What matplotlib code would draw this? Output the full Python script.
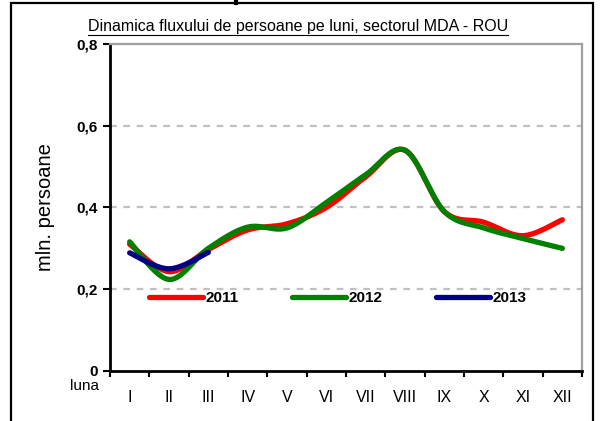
#!/usr/bin/env python3
# monthly passenger flow, MDA - ROU, smoothed lines like the Excel original
import numpy as np
import matplotlib
matplotlib.use('Agg')
import matplotlib.pyplot as plt
from matplotlib.lines import Line2D
from matplotlib.patches import Rectangle

plt.rcParams['font.family'] = ['Liberation Sans', 'DejaVu Sans']

# DATA
months = ['I', 'II', 'III', 'IV', 'V', 'VI', 'VII', 'VIII', 'IX', 'X', 'XI', 'XII']
flow_2011 = [0.31, 0.243, 0.297, 0.345, 0.36, 0.40, 0.475, 0.54, 0.39, 0.364, 0.331, 0.37]
flow_2012 = [0.316, 0.224, 0.30, 0.352, 0.35, 0.412, 0.48, 0.54, 0.39, 0.35, 0.324, 0.30]
flow_2013 = [0.289, 0.25, 0.29]
yticks = [0, 0.2, 0.4, 0.6, 0.8]
ytick_labels = ['0', '0,2', '0,4', '0,6', '0,8']
series = [('2011', flow_2011, '#ff0000'),
          ('2012', flow_2012, '#008000'),
          ('2013', flow_2013, '#000080')]


def smooth(y, n=30):
    """
        Catmull-Rom curve through the points (what Excel calls smoothed line)
    """
    y = np.asarray(y, dtype=float)
    x = np.arange(len(y), dtype=float)
    px = np.concatenate([[x[0]], x, [x[-1]]])
    py = np.concatenate([[y[0]], y, [y[-1]]])
    xs, ys = [], []
    t = np.linspace(0, 1, n)
    for i in range(1, len(px) - 2):
        for p, out in ((px, xs), (py, ys)):
            p0, p1, p2, p3 = p[i - 1], p[i], p[i + 1], p[i + 2]
            out.extend(0.5 * (2 * p1 + (-p0 + p2) * t
                              + (2 * p0 - 5 * p1 + 4 * p2 - p3) * t ** 2
                              + (-p0 + 3 * p1 - 3 * p2 + p3) * t ** 3))
    return np.array(xs), np.array(ys)


fig = plt.figure(figsize=(6, 4.21), dpi=100)
ax = fig.add_axes([0.1833, 0.1188, 0.7867, 0.7767])

for name, vals, color in series:
    xs, ys = smooth(vals)
    ax.plot(xs, ys, color=color, lw=3.8, solid_capstyle='round', label=name)

ax.set_xlim(-0.5, len(months) - 0.5)
ax.set_ylim(0, 0.8)

# gridlines
for v in yticks[1:-1]:
    ax.axhline(v, color='#c0c0c0', lw=1.6, ls=(0, (3, 3)), zorder=0)

for s in ['left', 'bottom']:
    ax.spines[s].set_linewidth(2)
    ax.spines[s].set_color('black')
for s in ['top', 'right']:
    ax.spines[s].set_linewidth(1.6)
    ax.spines[s].set_color('#a0a0a0')

ax.set_yticks(yticks)
ax.set_yticklabels(ytick_labels, fontweight='bold', fontsize=11)
ax.tick_params(axis='y', direction='out', length=5, width=1.5, pad=4)

ax.set_xticks(range(len(months)))
ax.set_xticklabels(months, fontsize=11.5)
ax.set_xticks(np.arange(-0.5, len(months)), minor=True)
ax.tick_params(axis='x', which='major', length=0, pad=14)
ax.tick_params(axis='x', which='minor', direction='out', length=4, width=1.5)

ax.set_ylabel('mln. persoane', fontsize=14.5)
ax.yaxis.set_label_coords(-0.117, 0.5)
fig.text(84 / 600, 1 - 386 / 421, 'luna', fontsize=11, ha='center', va='center')

t = fig.text(298 / 600, 1 - 27 / 421, 'Dinamica fluxului de persoane pe luni, sectorul MDA - ROU',
             fontsize=11.5, ha='center', va='center')
# underline under the title, as wide as the text
fig.canvas.draw()
bb = t.get_window_extent().transformed(fig.transFigure.inverted())
fig.add_artist(Line2D([bb.x0, bb.x1], [1 - 35 / 421, 1 - 35 / 421], color='black', lw=0.8))

leg = ax.legend(loc='center', bbox_to_anchor=(0.483, 0.223), ncol=3, frameon=False,
                handlelength=3.5, handletextpad=0.2, columnspacing=3.5,
                prop={'weight': 'bold', 'size': 11})

# outer frame
fig.add_artist(Rectangle((11 / 600, -0.05), 582 / 600, 1.05 - 3 / 421, fill=False,
                         ec='black', lw=1.6, transform=fig.transFigure))
fig.add_artist(Line2D([236 / 600, 236 / 600], [1 - 3 / 421, 1.0], color='black', lw=3))

plt.savefig('out.png', dpi=100)
